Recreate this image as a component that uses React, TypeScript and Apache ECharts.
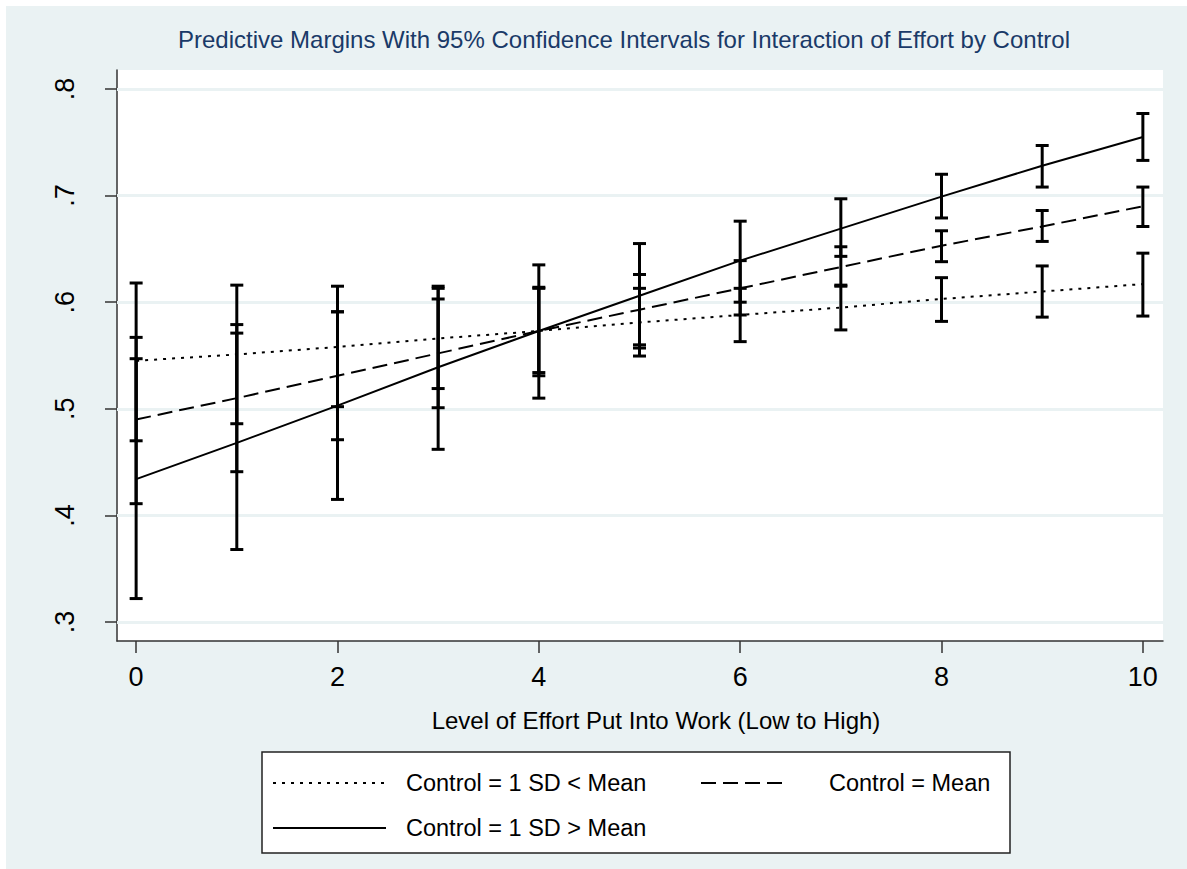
import React, { useEffect, useRef } from "react";
import * as echarts from "echarts";

// ---- data ----
const effortLevels = [0, 1, 2, 3, 4, 5, 6, 7, 8, 9, 10];

const lowControlMargin = [0.545, 0.551, 0.558, 0.566, 0.573, 0.581, 0.588, 0.595, 0.603, 0.61, 0.617];
const lowControlLower = [0.47, 0.486, 0.502, 0.519, 0.534, 0.5495, 0.563, 0.574, 0.582, 0.586, 0.587];
const lowControlUpper = [0.618, 0.616, 0.615, 0.613, 0.613, 0.613, 0.613, 0.616, 0.623, 0.634, 0.646];

const meanControlMargin = [0.49, 0.51, 0.531, 0.552, 0.573, 0.593, 0.613, 0.633, 0.653, 0.671, 0.69];
const meanControlLower = [0.411, 0.441, 0.471, 0.501, 0.531, 0.56, 0.588, 0.615, 0.638, 0.657, 0.671];
const meanControlUpper = [0.567, 0.579, 0.591, 0.603, 0.614, 0.626, 0.639, 0.652, 0.667, 0.686, 0.708];

const highControlMargin = [0.434, 0.468, 0.503, 0.539, 0.573, 0.606, 0.639, 0.669, 0.699, 0.728, 0.755];
const highControlLower = [0.322, 0.368, 0.415, 0.462, 0.51, 0.557, 0.6, 0.643, 0.679, 0.708, 0.733];
const highControlUpper = [0.547, 0.571, 0.591, 0.615, 0.635, 0.655, 0.676, 0.697, 0.72, 0.747, 0.777];

const xTickValues = [0, 2, 4, 6, 8, 10];
const yTickValues = [0.3, 0.4, 0.5, 0.6, 0.7, 0.8];

const seriesNames = ["Control = 1 SD < Mean", "Control = Mean", "Control = 1 SD > Mean"];

const titleText = "Predictive Margins With 95% Confidence Intervals for Interaction of Effort by Control";
const xAxisTitle = "Level of Effort Put Into Work (Low to High)";

// ---- style ----
const FONT = "'Liberation Sans', Arial, sans-serif";
const BG = "#eaf2f3";
const OX = 6; // white page margin in the reference
const OY = 6;

function errorBarSeries(lower: number[], upper: number[]) {
  const data = effortLevels.map((x, i) => [x, lower[i], upper[i]]);
  return {
    type: "custom",
    data,
    encode: { x: 0, y: [1, 2] },
    z: 5,
    silent: true,
    renderItem: (_params: any, api: any) => {
      const x = api.value(0);
      const lo = api.coord([x, api.value(1)]);
      const hi = api.coord([x, api.value(2)]);
      const hw = 6.5;
      const st = { stroke: "#000", lineWidth: 3 };
      return {
        type: "group",
        children: [
          { type: "line", shape: { x1: lo[0], y1: lo[1], x2: hi[0], y2: hi[1] }, style: st },
          { type: "line", shape: { x1: lo[0] - hw, y1: lo[1], x2: lo[0] + hw, y2: lo[1] }, style: st },
          { type: "line", shape: { x1: hi[0] - hw, y1: hi[1], x2: hi[0] + hw, y2: hi[1] }, style: st },
        ],
      };
    },
  };
}

function lineSeries(name: string, values: number[], dash: any) {
  return {
    type: "line",
    name,
    data: effortLevels.map((x, i) => [x, values[i]]),
    symbol: "none",
    z: 6,
    lineStyle: { color: "#000", width: 2, type: dash },
    itemStyle: { color: "#000" },
  };
}

export default function App() {
  const ref = useRef<HTMLDivElement>(null);

  useEffect(() => {
    if (!ref.current) return;
    const chart = echarts.init(ref.current, undefined, { renderer: "svg" });

    const gridLeft = 117 - OX;
    const gridTop = 70 - OY;
    const gridWidth = 1046;
    const gridHeight = 571;

    const legendText = { fontFamily: FONT, fontSize: 23.5, color: "#000", lineHeight: 26 };
    const legendCommon = {
      padding: 0,
      itemHeight: 14,
      selectedMode: false,
      itemStyle: { opacity: 0 },
    };

    chart.setOption({
      animation: false,
      backgroundColor: BG,
      title: {
        text: titleText,
        left: 624 - OX,
        top: 27 - OY,
        textAlign: "center",
        padding: 0,
        textStyle: { fontFamily: FONT, fontSize: 24, fontWeight: "normal", color: "#1a3a68" },
      },
      grid: {
        left: gridLeft,
        top: gridTop,
        width: gridWidth,
        height: gridHeight,
        show: true,
        backgroundColor: "#ffffff",
        borderWidth: 0,
        containLabel: false,
      },
      xAxis: {
        type: "value",
        min: -0.19,
        max: 10.2,
        name: xAxisTitle,
        nameLocation: "middle",
        nameGap: 79,
        nameTextStyle: {
          fontFamily: FONT,
          fontSize: 24,
          color: "#000",
          verticalAlign: "middle",
          padding: [0, 0, 0, 32],
        },
        axisLine: { show: true, onZero: false, lineStyle: { color: "#333", width: 1.5 } },
        axisTick: { show: true, length: 12, customValues: xTickValues, lineStyle: { color: "#333", width: 1.5 } },
        axisLabel: {
          customValues: xTickValues,
          fontFamily: FONT,
          fontSize: 27,
          color: "#000",
          margin: 22,
        },
        splitLine: { show: false },
      },
      yAxis: {
        type: "value",
        min: 0.2822,
        max: 0.8178,
        axisLine: { show: true, onZero: false, lineStyle: { color: "#333", width: 1.5 } },
        axisTick: { show: true, length: 12, customValues: yTickValues, lineStyle: { color: "#333", width: 1.5 } },
        axisLabel: {
          customValues: yTickValues,
          rotate: 90,
          fontFamily: FONT,
          fontSize: 27,
          color: "#000",
          margin: 39,
          formatter: (v: number) => "." + Math.round(v * 10),
        },
        splitLine: { show: false },
      },
      legend: [
        {
          ...legendCommon,
          data: [seriesNames[0]],
          left: 272 - OX,
          top: 770 - OY,
          itemWidth: 113,
          textStyle: { ...legendText, padding: [0, 0, 0, 15] },
        },
        {
          ...legendCommon,
          data: [seriesNames[1]],
          left: 700 - OX,
          top: 770 - OY,
          itemWidth: 87,
          textStyle: { ...legendText, padding: [0, 0, 0, 36] },
        },
        {
          ...legendCommon,
          data: [seriesNames[2]],
          left: 272 - OX,
          top: 815 - OY,
          itemWidth: 113,
          textStyle: { ...legendText, padding: [0, 0, 0, 15] },
        },
      ],
      graphic: [
        {
          type: "rect",
          z: 1,
          shape: { x: 262 - OX, y: 752 - OY, width: 748, height: 101 },
          style: { fill: "#ffffff", stroke: "#222", lineWidth: 1.5 },
          silent: true,
        },
      ],
      series: [
        {
          type: "line",
          name: "grid",
          data: [],
          silent: true,
          z: 1,
          markLine: {
            silent: true,
            symbol: "none",
            label: { show: false },
            lineStyle: { color: BG, width: 3, type: "solid" },
            data: yTickValues.map((v) => ({ yAxis: v })),
          },
        },
        lineSeries(seriesNames[0], lowControlMargin, [3, 6]),
        lineSeries(seriesNames[1], meanControlMargin, [15, 7]),
        lineSeries(seriesNames[2], highControlMargin, "solid"),
        errorBarSeries(lowControlLower, lowControlUpper),
        errorBarSeries(meanControlLower, meanControlUpper),
        errorBarSeries(highControlLower, highControlUpper),
      ],
    });

    return () => chart.dispose();
  }, []);

  return (
    <div style={{ position: "fixed", left: 0, top: 0, width: 1187, height: 869, background: "#ffffff" }}>
      <div
        ref={ref}
        style={{ position: "absolute", left: OX, top: OY, width: 1187 - OX, height: 869 - OY }}
      />
    </div>
  );
}
